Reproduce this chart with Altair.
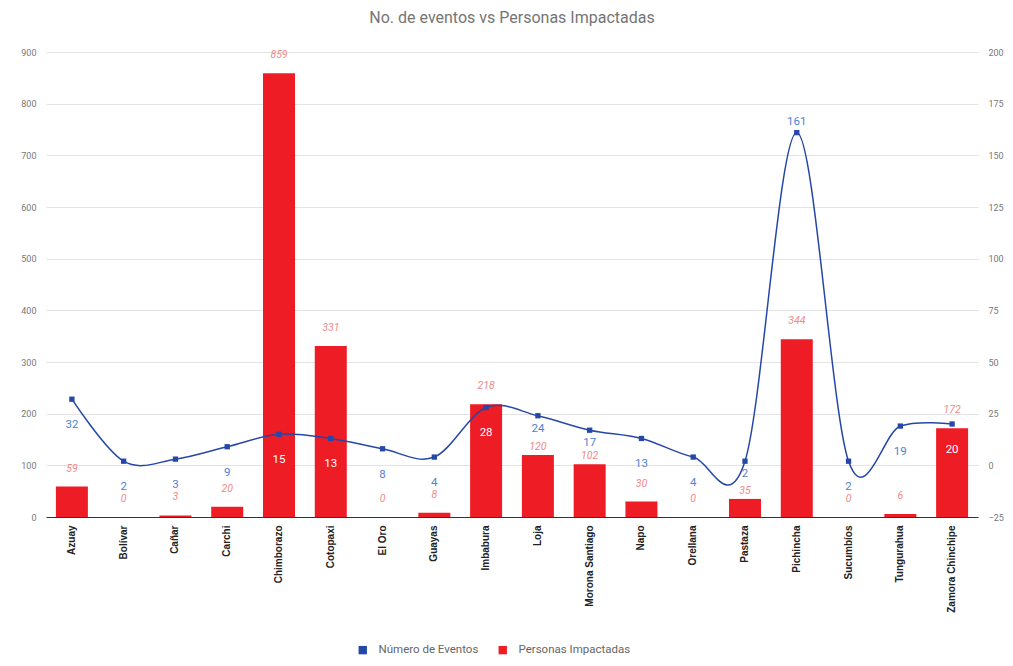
import altair as alt
import pandas as pd

provincias = ["Azuay", "Bolívar", "Cañar", "Carchi", "Chimborazo", "Cotopaxi", "El Oro",
              "Guayas", "Imbabura", "Loja", "Morona Santiago", "Napo", "Orellana",
              "Pastaza", "Pichincha", "Sucumbíos", "Tungurahua", "Zamora Chinchipe"]
personas = [59, 0, 3, 20, 859, 331, 0, 8, 218, 120, 102, 30, 0, 35, 344, 0, 6, 172]
eventos = [32, 2, 3, 9, 15, 13, 8, 4, 28, 24, 17, 13, 4, 2, 161, 2, 19, 20]

df = pd.DataFrame({"provincia": provincias, "personas": personas, "eventos": eventos})

FONT = "Roboto"
BLUE = "#2547a8"
RED = "#ee1c25"
BLUE_LBL = "#4f82d4"
RED_LBL = "#f08a8a"

x = alt.X("provincia:N", sort=provincias, title=None,
          scale=alt.Scale(paddingInner=0.38, paddingOuter=0.19),
          axis=alt.Axis(labelAngle=-90, labelFontSize=10, labelColor="#222", labelFont="Liberation Sans",
                        labelFontWeight="bold", ticks=False, domainColor="#333", domainWidth=1,
                        labelPadding=8, labelBaseline="middle"))

yl = alt.Y("personas:Q", title=None,
           scale=alt.Scale(domain=[0, 900], nice=False),
           axis=alt.Axis(values=list(range(0, 901, 100)), labelFontSize=9, labelColor="#777",
                         domain=False, ticks=False, gridColor="#e3e3e3", labelPadding=10,
                         labelFont=FONT))

# label-collision flag (pixel gap between the two value labels of a category)
collide_expr = "(-8 - datum.eventos * 465 / 225 + datum.personas * 465 / 900)"

bars = alt.Chart(df).mark_bar(size=32).encode(
    x=x, y=yl,
    color=alt.Color("s:N", scale=alt.Scale(domain=["Número de Eventos", "Personas Impactadas"],
                                           range=[BLUE, RED]),
                    legend=alt.Legend(orient="none", direction="horizontal", legendX=311, legendY=592,
                                      title=None, symbolType="square", symbolSize=70,
                                      labelFontSize=11.5, labelColor="#666", labelFont=FONT,
                                      labelOffset=10, columnPadding=18))
).transform_calculate(s="'Personas Impactadas'")

red_base = alt.Chart(df).transform_calculate(gap=collide_expr).transform_calculate(
    col="datum.gap > -10 && datum.gap < 20")

red_text = red_base.transform_filter("!datum.col").mark_text(
    dy=-18, fontSize=10.5, fontStyle="italic", color=RED_LBL, font=FONT).encode(
    x=x, y=yl, text="personas:Q")
red_text_c = red_base.transform_filter("datum.col").mark_text(
    dy=-8, fontSize=10.5, fontStyle="italic", color=RED_LBL, font=FONT).encode(
    x=x, y=yl, text="personas:Q")

left = alt.layer(bars, red_text, red_text_c)

yr = alt.Y("eventos:Q", title=None,
           scale=alt.Scale(domain=[-25, 200], nice=False),
           axis=alt.Axis(orient="right", values=list(range(-25, 201, 25)), labelFontSize=9,
                         labelColor="#777", domain=False, ticks=False, grid=False, labelPadding=10,
                         labelFont=FONT))

line = alt.Chart(df).mark_line(interpolate="cardinal", tension=0, color=BLUE, strokeWidth=1.5).encode(
    x=x, y=yr)

points = alt.Chart(df).mark_point(shape="square", filled=True, size=28, opacity=1).encode(
    x=x, y=yr,
    color=alt.Color("s:N", legend=None)
).transform_calculate(s="'Número de Eventos'")

base_t = alt.Chart(df).transform_calculate(
    inside="(datum.eventos + 25) * 4 - 46 < datum.personas",
    gap=collide_expr
).transform_calculate(col="datum.gap > -10 && datum.gap < 20")

blue_text = base_t.transform_filter("datum.eventos < 100 && !datum.col").mark_text(
    dy=26, fontSize=11.5, font=FONT).encode(
    x=x, y=yr, text="eventos:Q",
    color=alt.condition("datum.inside", alt.value("#ffffff"), alt.value(BLUE_LBL)),
    opacity=alt.value(1))

blue_text_c = base_t.transform_filter("datum.eventos < 100 && datum.col").mark_text(
    dy=13, fontSize=11.5, font=FONT, color=BLUE_LBL).encode(
    x=x, y=yr, text="eventos:Q")

blue_text_top = base_t.transform_filter("datum.eventos >= 100").mark_text(
    dy=-11, fontSize=11.5, font=FONT, color=BLUE_LBL).encode(
    x=x, y=yr, text="eventos:Q")

right = alt.layer(line, points, blue_text, blue_text_c, blue_text_top)

chart = alt.layer(left, right).resolve_scale(y="independent").properties(
    width=932, height=465,
    title=alt.TitleParams("No. de eventos vs Personas Impactadas", fontSize=16, color="#757575",
                          font=FONT, fontWeight="normal", anchor="middle", offset=22),
    padding={"left": 38, "top": 44, "right": 27, "bottom": 141},
    autosize=alt.AutoSizeParams(type="none")
).configure_view(stroke=None)

chart.save("out.html", embed_options={"renderer": "svg", "actions": False})
